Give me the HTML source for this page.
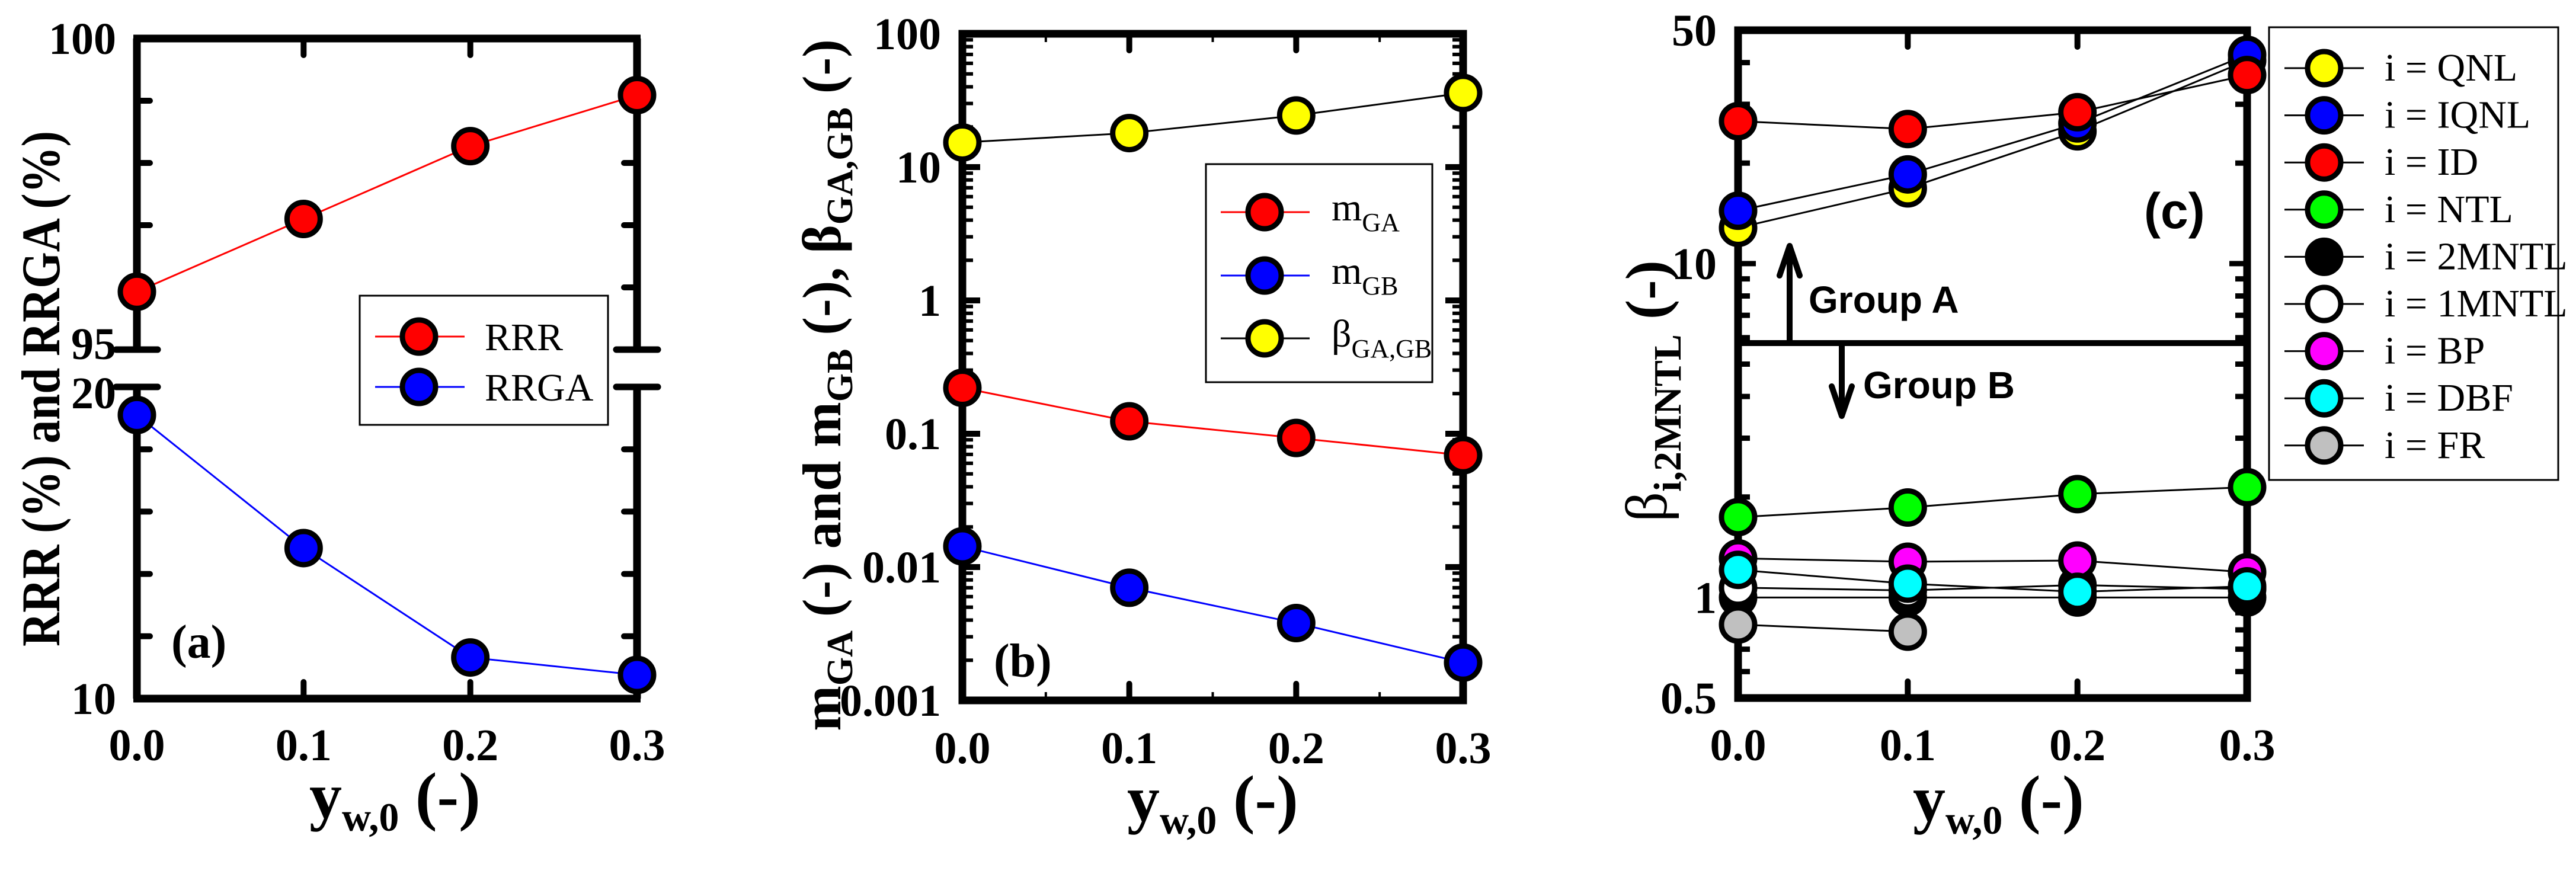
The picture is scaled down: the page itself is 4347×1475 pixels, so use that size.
<!DOCTYPE html>
<html><head><meta charset="utf-8"><title>Chart</title>
<style>
html,body{margin:0;padding:0;background:#fff;}
svg{display:block;}
.tl{font-family:"Liberation Serif","DejaVu Serif",serif;font-weight:bold;font-size:76px;}
.tt{font-family:"Liberation Serif","DejaVu Serif",serif;font-weight:bold;}
.lg{font-family:"Liberation Serif","DejaVu Serif",serif;font-size:66px;}
.sb{font-family:"Liberation Sans","DejaVu Sans",sans-serif;font-weight:bold;}
</style></head>
<body>
<svg id="fig" xmlns="http://www.w3.org/2000/svg" width="4347" height="1475" viewBox="0 0 4347 1475">
<rect width="4347" height="1475" fill="#fff"/>
<g id="pa"></g>
<g id="pb"></g>
<g id="pc"></g>
</svg>
<script>
// ---------- data ----------
const xCats = [0.0, 0.1, 0.2, 0.3];
const xTickLabels = ["0.0", "0.1", "0.2", "0.3"];
// panel a
const rrrValues = [95.93, 97.10, 98.27, 99.09];
const rrgaValues = [19.10, 14.83, 11.32, 10.76];
const aUpperTickLabels = ["100", "95"];
const aLowerTickLabels = ["20", "10"];
// panel b
const mGAValues = [0.221, 0.124, 0.093, 0.069];
const mGBValues = [0.0143, 0.0070, 0.0038, 0.00192];
const betaGAGBValues = [15.3, 18.0, 24.4, 36.0];
const bTickValues = [100, 10, 1, 0.1, 0.01, 0.001];
const bTickLabels = ["100", "10", "1", "0.1", "0.01", "0.001"];
// panel c
const cSeriesNames = ["QNL", "IQNL", "ID", "NTL", "2MNTL", "1MNTL", "BP", "DBF", "FR"];
const qnlValues = [12.8, 16.8, 24.9, 40.6];
const iqnlValues = [14.4, 18.5, 26.3, 42.2];
const idValues = [26.7, 25.3, 28.4, 36.7];
const ntlValues = [1.74, 1.86, 2.04, 2.14];
const mntl2Values = [1.0, 1.0, 1.0, 1.0];
const mntl1Values = [1.07, 1.05, 1.09, 1.06];
const bpValues = [1.31, 1.28, 1.29, 1.19];
const dbfValues = [1.21, 1.10, 1.04, 1.08];
const frValues = [0.83, 0.79];
const cTickValues = [50, 10, 1, 0.5];
const cTickLabels = ["50", "10", "1", "0.5"];
const groupDivider = 5.78;

const NS = "http://www.w3.org/2000/svg";
function mk(parent, tag, attrs, txt) {
  const e = document.createElementNS(NS, tag);
  for (const k in attrs) e.setAttribute(k, attrs[k]);
  if (txt !== undefined) e.textContent = txt;
  parent.appendChild(e);
  return e;
}
const AW = 13, R = 28, MS = 9;

// ---------- Panel A ----------
(function () {
  const g = document.getElementById('pa');
  const L = 231, Rt = 1075, T = 65, B = 1179, bu = 590, bl = 653;
  const xs = v => L + (v - xCats[0]) / (xCats[3] - xCats[0]) * (Rt - L);
  const ys = v => v >= 95 ? T + (100 - v) / 5 * (bu - T) : bl + (20 - v) / 10 * (B - bl);
  let e;
  e = mk(g, 'line', {x1: L - 6, y1: T, x2: Rt + 6, y2: T, stroke: '#000', 'stroke-width': AW});
   
  e = mk(g, 'line', {x1: L - 6, y1: B, x2: Rt + 6, y2: B, stroke: '#000', 'stroke-width': AW});
   
  [L, Rt].forEach(x => {
    e = mk(g, 'line', {x1: x, y1: T, x2: x, y2: bu, stroke: '#000', 'stroke-width': AW});
     
    e = mk(g, 'line', {x1: x, y1: bl, x2: x, y2: B, stroke: '#000', 'stroke-width': AW});
     
    [bu, bl].forEach(y => {
      e = mk(g, 'line', {x1: x - 35, y1: y, x2: x + 35, y2: y, stroke: '#000', 'stroke-width': 11, 'stroke-linecap': 'round'});
       
    });
    for (let v = 99; v >= 96; v--) {
      const d = x === L ? 1 : -1;
      e = mk(g, 'line', {x1: x, y1: ys(v), x2: x + d * 22, y2: ys(v), stroke: '#000', 'stroke-width': 10, 'stroke-linecap': 'round'});
       
    }
    for (let v = 18; v >= 12; v -= 2) {
      const d = x === L ? 1 : -1;
      e = mk(g, 'line', {x1: x, y1: ys(v), x2: x + d * 22, y2: ys(v), stroke: '#000', 'stroke-width': 10, 'stroke-linecap': 'round'});
       
    }
  });
  [0.1, 0.2].forEach(v => {
    e = mk(g, 'line', {x1: xs(v), y1: T, x2: xs(v), y2: T + 28, stroke: '#000', 'stroke-width': 10, 'stroke-linecap': 'round'});
     
    e = mk(g, 'line', {x1: xs(v), y1: B, x2: xs(v), y2: B - 28, stroke: '#000', 'stroke-width': 10, 'stroke-linecap': 'round'});
     
  });
  xCats.forEach((v, i) => {
    e = mk(g, 'text', {x: xs(v), y: 1283, 'text-anchor': 'middle', class: 'tl'}, xTickLabels[i]);
     
  });
  [[100, aUpperTickLabels[0], 0], [95, aUpperTickLabels[1], -10], [20, aLowerTickLabels[0], 10], [10, aLowerTickLabels[1], 0]].forEach(t => {
    e = mk(g, 'text', {x: 196, y: ys(t[0]) + 26 + t[2], 'text-anchor': 'end', class: 'tl'}, t[1]);
     
  });
  e = mk(g, 'text', {x: 0, y: 0, 'text-anchor': 'middle', class: 'tt', 'font-size': 92, transform: 'translate(100,656) rotate(-90)', textLength: 870, lengthAdjust: 'spacingAndGlyphs'}, 'RRR (%) and RRGA (%)');
   
  e = mk(g, 'text', {x: 522, y: 1380, class: 'tt', 'font-size': 110});
   
  mk(e, 'tspan', {}, 'y');
  mk(e, 'tspan', {'font-size': 68, dy: 22}, 'w,0');
  mk(e, 'tspan', {dy: -22}, ' (-)');
  e = mk(g, 'text', {x: 289, y: 1110, class: 'tt', 'font-size': 80}, '(a)');
   
  function series(vals, color, name) {
    const pts = vals.map((v, i) => xs(xCats[i]) + ',' + ys(v)).join(' ');
    let l = mk(g, 'polyline', {points: pts, fill: 'none', stroke: color, 'stroke-width': 3});
     
    vals.forEach((v, i) => {
      let c = mk(g, 'circle', {cx: xs(xCats[i]), cy: ys(v), r: R, fill: color, stroke: '#000', 'stroke-width': MS});
       
    });
  }
  series(rrrValues, '#ff0000', 'rrr');
  series(rrgaValues, '#0000ff', 'rrga');
  const lg = mk(g, 'g', {});
   
  mk(lg, 'rect', {x: 607, y: 499, width: 419, height: 218, fill: '#fff', stroke: '#000', 'stroke-width': 3});
  [['RRR', '#ff0000', 568], ['RRGA', '#0000ff', 653]].forEach(en => {
    const ge = mk(lg, 'g', {});
     
    mk(ge, 'line', {x1: 633, y1: en[2], x2: 784, y2: en[2], stroke: en[1], 'stroke-width': 3});
    mk(ge, 'circle', {cx: 707, cy: en[2], r: R, fill: en[1], stroke: '#000', 'stroke-width': MS});
    mk(ge, 'text', {x: 818, y: en[2] + 23, class: 'lg'}, en[0]);
  });
})();

// ---------- Panel B ----------
(function () {
  const g = document.getElementById('pb');
  const L = 1624, Rt = 2469, T = 57, B = 1182;
  const xs = v => L + (v - xCats[0]) / (xCats[3] - xCats[0]) * (Rt - L);
  const ys = v => T + (2 - Math.log10(v)) / 5 * (B - T);
  let e;
  e = mk(g, 'rect', {x: L, y: T, width: Rt - L, height: B - T, fill: 'none', stroke: '#000', 'stroke-width': AW});
   
  for (let d = -3; d < 2; d++) {
    for (let m = 1; m <= 9; m++) {
      const v = m * Math.pow(10, d);
      const len = m === 1 ? 30 : 18;
      [[L, 1], [Rt, -1]].forEach(s => {
        e = mk(g, 'line', {x1: s[0], y1: ys(v), x2: s[0] + s[1] * len, y2: ys(v), stroke: '#000', 'stroke-width': m === 1 ? 10 : 6});
         
      });
    }
  }
  [0.1, 0.2].forEach(v => {
    [[T, 1], [B, -1]].forEach(s => {
      e = mk(g, 'line', {x1: xs(v), y1: s[0], x2: xs(v), y2: s[0] + s[1] * 28, stroke: '#000', 'stroke-width': 10, 'stroke-linecap': 'round'});
       
    });
  });
  [0.05, 0.15, 0.25].forEach(v => {
    [[T, 1], [B, -1]].forEach(s => {
      e = mk(g, 'line', {x1: xs(v), y1: s[0], x2: xs(v), y2: s[0] + s[1] * 14, stroke: '#000', 'stroke-width': 4});
       
    });
  });
  xCats.forEach((v, i) => {
    e = mk(g, 'text', {x: xs(v), y: 1288, 'text-anchor': 'middle', class: 'tl'}, xTickLabels[i]);
     
  });
  bTickValues.forEach((v, i) => {
    e = mk(g, 'text', {x: 1588, y: ys(v) + 26, 'text-anchor': 'end', class: 'tl'}, bTickLabels[i]);
     
  });
  e = mk(g, 'text', {x: 0, y: 0, 'text-anchor': 'middle', class: 'tt', 'font-size': 92, transform: 'translate(1418,650) rotate(-90)'});
   
  mk(e, 'tspan', {}, 'm');
  mk(e, 'tspan', {'font-size': 62, dy: 20}, 'GA');
  mk(e, 'tspan', {dy: -20}, ' (-) and m');
  mk(e, 'tspan', {'font-size': 62, dy: 20}, 'GB');
  mk(e, 'tspan', {dy: -20}, ' (-), β');
  mk(e, 'tspan', {'font-size': 62, dy: 20}, 'GA,GB');
  mk(e, 'tspan', {dy: -20}, ' (-)');
  e = mk(g, 'text', {x: 1902, y: 1385, class: 'tt', 'font-size': 110});
   
  mk(e, 'tspan', {}, 'y');
  mk(e, 'tspan', {'font-size': 68, dy: 22}, 'w,0');
  mk(e, 'tspan', {dy: -22}, ' (-)');
  e = mk(g, 'text', {x: 1677, y: 1142, class: 'tt', 'font-size': 80}, '(b)');
   
  function series(vals, color, lc, name) {
    const pts = vals.map((v, i) => xs(xCats[i]) + ',' + ys(v)).join(' ');
    let l = mk(g, 'polyline', {points: pts, fill: 'none', stroke: lc, 'stroke-width': 3});
     
    vals.forEach((v, i) => {
      let c = mk(g, 'circle', {cx: xs(xCats[i]), cy: ys(v), r: R, fill: color, stroke: '#000', 'stroke-width': MS});
       
    });
  }
  series(betaGAGBValues, '#ffff00', '#000', 'beta-ga-gb');
  series(mGAValues, '#ff0000', '#ff0000', 'm-ga');
  series(mGBValues, '#0000ff', '#0000ff', 'm-gb');
  const lg = mk(g, 'g', {});
   
  mk(lg, 'rect', {x: 2035, y: 277, width: 382, height: 368, fill: '#fff', stroke: '#000', 'stroke-width': 3});
  [['m', 'GA', '#ff0000', '#ff0000', 358], ['m', 'GB', '#0000ff', '#0000ff', 465], ['β', 'GA,GB', '#ffff00', '#000', 571]].forEach(en => {
    const ge = mk(lg, 'g', {});
     
    mk(ge, 'line', {x1: 2060, y1: en[4], x2: 2210, y2: en[4], stroke: en[3], 'stroke-width': 3});
    mk(ge, 'circle', {cx: 2134, cy: en[4], r: R, fill: en[2], stroke: '#000', 'stroke-width': MS});
    const t = mk(ge, 'text', {x: 2247, y: en[4] + 14, class: 'lg'});
    mk(t, 'tspan', {}, en[0]);
    mk(t, 'tspan', {'font-size': 44, dy: 18}, en[1]);
  });
})();

// ---------- Panel C ----------
(function () {
  const g = document.getElementById('pc');
  const L = 2933, Rt = 3792, T = 51, B = 1178;
  const xs = v => L + (v - xCats[0]) / (xCats[3] - xCats[0]) * (Rt - L);
  const lo = Math.log10(0.5), hi = Math.log10(50);
  const ys = v => T + (hi - Math.log10(v)) / (hi - lo) * (B - T);
  let e;
  e = mk(g, 'rect', {x: L, y: T, width: Rt - L, height: B - T, fill: 'none', stroke: '#000', 'stroke-width': AW});
   
  const minor = [0.6, 0.7, 0.8, 0.9, 1, 2, 3, 4, 5, 6, 7, 8, 9, 10, 20, 30, 40];
  minor.forEach(v => {
    const major = (v === 1 || v === 10);
    [[L, 1], [Rt, -1]].forEach(s => {
      e = mk(g, 'line', {x1: s[0], y1: ys(v), x2: s[0] + s[1] * (major ? 30 : 20), y2: ys(v), stroke: '#000', 'stroke-width': 9});
       
    });
  });
  [0.1, 0.2].forEach(v => {
    [[T, 1], [B, -1]].forEach(s => {
      e = mk(g, 'line', {x1: xs(v), y1: s[0], x2: xs(v), y2: s[0] + s[1] * 28, stroke: '#000', 'stroke-width': 10, 'stroke-linecap': 'round'});
       
    });
  });
  xCats.forEach((v, i) => {
    e = mk(g, 'text', {x: xs(v), y: 1283, 'text-anchor': 'middle', class: 'tl'}, xTickLabels[i]);
     
  });
  cTickValues.forEach((v, i) => {
    e = mk(g, 'text', {x: 2897, y: ys(v) + 26, 'text-anchor': 'end', class: 'tl'}, cTickLabels[i]);
     
  });
  const dy = ys(groupDivider);
  e = mk(g, 'line', {x1: L, y1: dy, x2: Rt, y2: dy, stroke: '#000', 'stroke-width': 10});
   
  e = mk(g, 'path', {d: `M3020 ${dy} V420 M3003 465 L3020 415 L3037 465`, fill: 'none', stroke: '#000', 'stroke-width': 10, 'stroke-linejoin': 'round', 'stroke-linecap': 'round'});
   
  e = mk(g, 'path', {d: `M3108 ${dy} V700 M3091 652 L3108 702 L3125 652`, fill: 'none', stroke: '#000', 'stroke-width': 10, 'stroke-linejoin': 'round', 'stroke-linecap': 'round'});
   
  e = mk(g, 'text', {x: 3052, y: 528, class: 'sb', 'font-size': 64}, 'Group A');
   
  e = mk(g, 'text', {x: 3144, y: 672, class: 'sb', 'font-size': 64}, 'Group B');
   
  e = mk(g, 'text', {x: 3618, y: 385, class: 'sb', 'font-size': 84}, '(c)');
   
  e = mk(g, 'text', {x: 0, y: 0, 'text-anchor': 'middle', class: 'tt', 'font-size': 100, transform: 'translate(2812,660) rotate(-90)'});
   
  mk(e, 'tspan', {'font-weight': 'normal'}, 'β');
  mk(e, 'tspan', {'font-size': 66, dy: 24}, 'i,2MNTL');
  mk(e, 'tspan', {dy: -24}, '  (-)');
  e = mk(g, 'text', {x: 3228, y: 1385, class: 'tt', 'font-size': 110});
   
  mk(e, 'tspan', {}, 'y');
  mk(e, 'tspan', {'font-size': 68, dy: 22}, 'w,0');
  mk(e, 'tspan', {dy: -22}, ' (-)');
  const series = [
    [qnlValues, '#ffff00', 'qnl'], [iqnlValues, '#0000ff', 'iqnl'], [idValues, '#ff0000', 'id'],
    [ntlValues, '#00ff00', 'ntl'], [mntl2Values, '#000000', '2mntl'], [mntl1Values, '#ffffff', '1mntl'],
    [bpValues, '#ff00ff', 'bp'], [dbfValues, '#00ffff', 'dbf'], [frValues, '#c0c0c0', 'fr']
  ];
  series.forEach(s => {
    const pts = s[0].map((v, i) => xs(xCats[i]) + ',' + ys(v)).join(' ');
    let l = mk(g, 'polyline', {points: pts, fill: 'none', stroke: '#000', 'stroke-width': 3});
     
  });
  series.forEach(s => {
    s[0].forEach((v, i) => {
      let c = mk(g, 'circle', {cx: xs(xCats[i]), cy: ys(v), r: R, fill: s[1], stroke: '#000', 'stroke-width': MS});
       
    });
  });
  const lg = mk(g, 'g', {});
   
  mk(lg, 'rect', {x: 3829, y: 46, width: 488, height: 764, fill: '#fff', stroke: '#000', 'stroke-width': 3});
  series.forEach((s, i) => {
    const y = 115 + i * 79.6;
    const ge = mk(lg, 'g', {});
     
    mk(ge, 'line', {x1: 3855, y1: y, x2: 3989, y2: y, stroke: '#000', 'stroke-width': 3});
    mk(ge, 'circle', {cx: 3922, cy: y, r: R, fill: s[1], stroke: '#000', 'stroke-width': MS});
    mk(ge, 'text', {x: 4024, y: y + 21, class: 'lg', 'font-size': 60}, 'i = ' + cSeriesNames[i]);
  });
})();
</script>
</body></html>
